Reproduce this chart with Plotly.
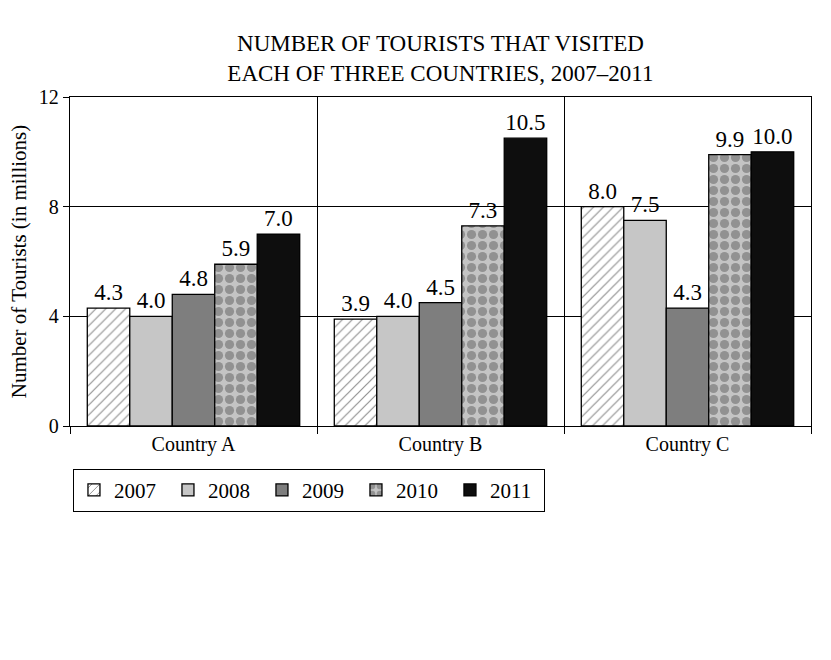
import plotly.graph_objects as go

countries = ["Country A", "Country B", "Country C"]
years = ["2007", "2008", "2009", "2010", "2011"]
v2007 = [4.3, 3.9, 8.0]
v2008 = [4.0, 4.0, 7.5]
v2009 = [4.8, 4.5, 4.3]
v2010 = [5.9, 7.3, 9.9]
v2011 = [7.0, 10.5, 10.0]
values = [v2007, v2008, v2009, v2010, v2011]

styles = [
    dict(color="white", pattern=dict(shape="/", fgcolor="#222222", bgcolor="white", size=7, solidity=0.17)),
    dict(color="#c6c6c6"),
    dict(color="#7e7e7e"),
    dict(color="#c2c2c2", pattern=dict(shape=".", fgcolor="#5e5e5e", bgcolor="#c4c4c4", size=11, solidity=0.55)),
    dict(color="#0e0e0e"),
]

serif = "Liberation Serif, Times New Roman, serif"
fig = go.Figure()
for y, vals, st in zip(years, values, styles):
    fig.add_trace(go.Bar(
        name=y, x=countries, y=vals,
        marker=dict(line=dict(color="black", width=1.3), **st),
        text=vals, texttemplate="%{y:.1f}", textposition="outside",
        textfont=dict(family=serif, size=23, color="black"),
        cliponaxis=False,
    ))

fig.update_layout(
    width=831, height=660,
    margin=dict(l=70, r=20, t=97, b=234),
    paper_bgcolor="white", plot_bgcolor="white",
    barmode="group", bargap=0.14, bargroupgap=0,
    font=dict(family=serif, size=20, color="black"),
    title=dict(text="NUMBER OF TOURISTS THAT VISITED<br>EACH OF THREE COUNTRIES, 2007–2011",
               x=0.53, xanchor="center", y=0.922, yanchor="top",
               font=dict(family=serif, size=23, color="black")),
    legend=dict(orientation="h", x=0.004, xanchor="left", y=-0.13, yanchor="top",
                bordercolor="black", borderwidth=1, bgcolor="white",
                entrywidth=49, entrywidthmode="pixels",
                font=dict(family=serif, size=21, color="black"), traceorder="normal"),
)
fig.update_xaxes(
    showline=True, linecolor="black", linewidth=1.3, mirror=True,
    tickson="boundaries", ticks="outside", ticklen=7, tickcolor="black",
    showgrid=True, gridcolor="black", gridwidth=1,
    tickfont=dict(family=serif, size=20, color="black"),
)
fig.update_yaxes(
    range=[0, 12], dtick=4, showline=True, linecolor="black", linewidth=1.3, mirror=True,
    ticks="outside", ticklen=6, tickcolor="black",
    showgrid=True, gridcolor="black", gridwidth=1, zeroline=False,
    title=dict(text="Number of Tourists (in millions)", font=dict(family=serif, size=21, color="black"), standoff=6),
    tickfont=dict(family=serif, size=20, color="black"),
)
fig.write_html("out.html")
